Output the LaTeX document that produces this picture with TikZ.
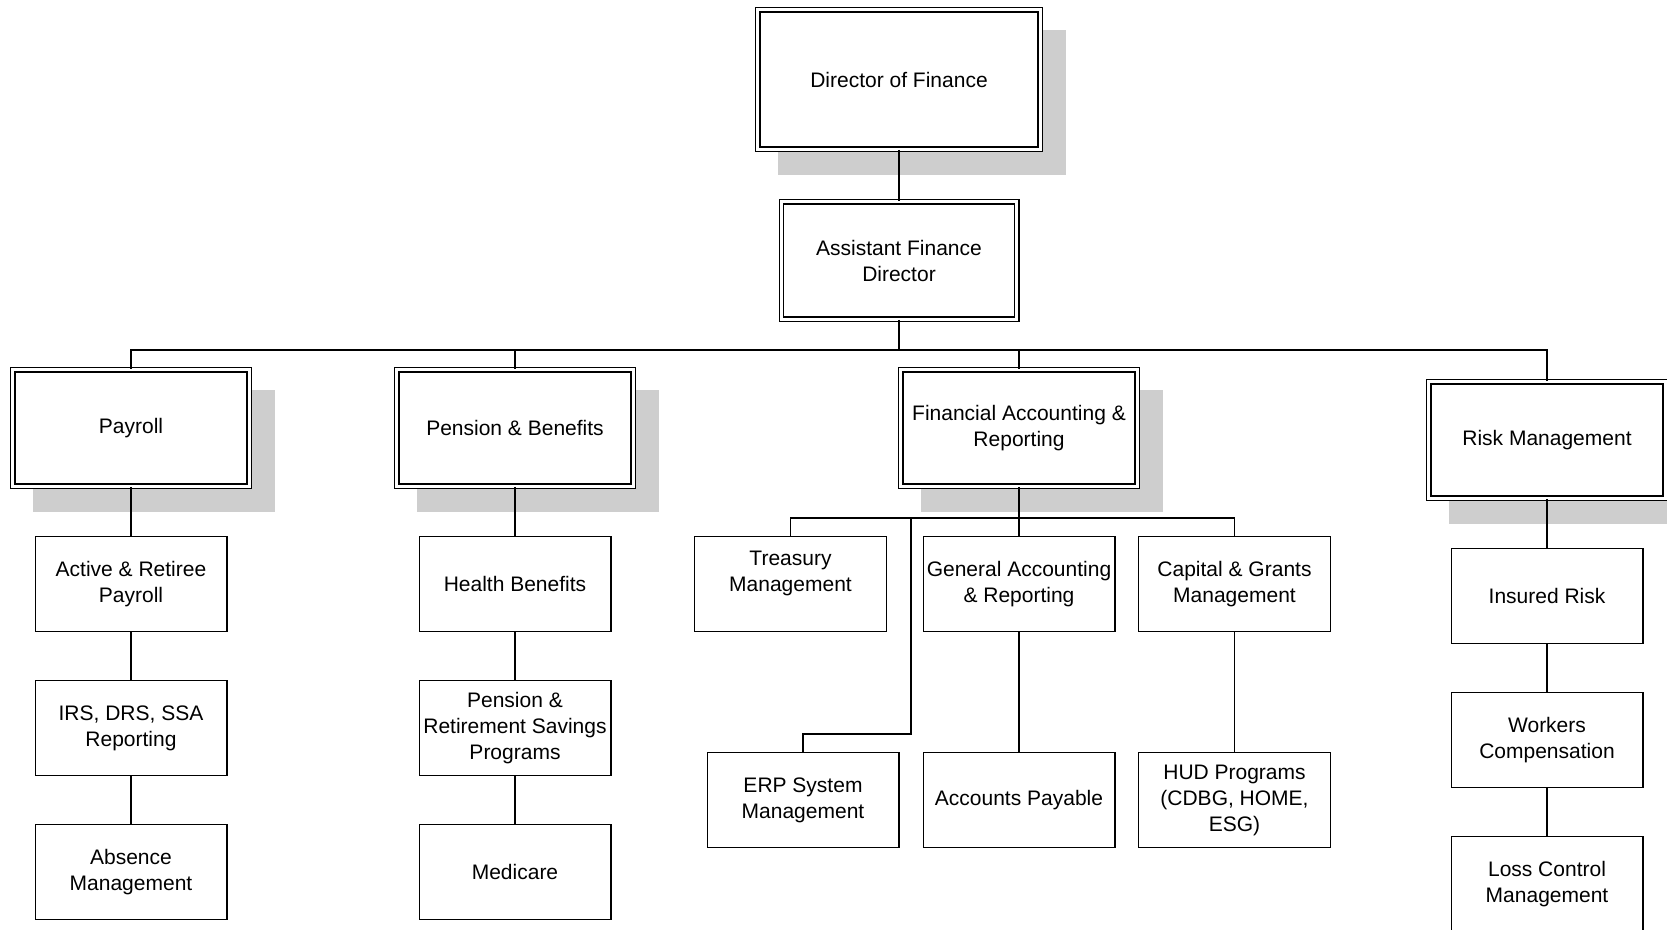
\documentclass[tikz,border=0pt]{standalone}
\usepackage{fontspec}
\setmainfont{Liberation Sans}
\usetikzlibrary{shadows}
\definecolor{shadowgray}{RGB}{206,206,206}
\begin{document}
\begin{tikzpicture}[x=1pt,y=-1pt,
  every node/.style={font=\fontsize{21}{26}\selectfont, align=center, inner sep=0pt},
  unitbox/.style={draw, line width=1.4pt, fill=white,
    minimum width=193pt-1.4pt, minimum height=96pt-1.4pt},
  dblbox/.style={draw, line width=1.3pt, double, double distance=3pt, fill=white},
  headbox/.style={dblbox,
    drop shadow={shadow xshift=23pt, shadow yshift=-23pt, fill=shadowgray,
      draw=shadowgray, line width=5.6pt, opacity=1}},
  deptbox/.style={headbox, minimum width=242pt-5.6pt, minimum height=122pt-5.6pt},
  link/.style={line width=1.5pt}]
\useasboundingbox (0,0) rectangle (1667,929);

% top of the hierarchy
\node[headbox, minimum width=288pt-5.6pt, minimum height=145pt-5.6pt] (dir) at (899,79.5) {Director of Finance};
\node[dblbox, minimum width=241pt-5.6pt, minimum height=123pt-5.6pt] (asst) at (899,260.5) {Assistant Finance\\Director};

% divisions
\node[deptbox] (payroll) at (131,428) {Payroll};
\node[deptbox] (pension) at (515,428) {Pension \& Benefits};
\node[deptbox] (finacc) at (1019,428) {Financial Accounting \&\\Reporting};
\node[deptbox] (risk) at (1547,440) {Risk Management};

% payroll units
\node[unitbox] (p1) at (131,584) {Active \& Retiree\\Payroll};
\node[unitbox] (p2) at (131,728) {IRS, DRS, SSA\\Reporting};
\node[unitbox] (p3) at (131,872) {Absence\\Management};

% pension units
\node[unitbox] (b1) at (515,584) {Health Benefits};
\node[unitbox] (b2) at (515,728) {Pension \&\\Retirement Savings\\Programs};
\node[unitbox] (b3) at (515,872) {Medicare};

% accounting units
\node[unitbox] (treasury) at (790.5,584) {Treasury\\Management\\\mbox{}};
\node[unitbox] (ga) at (1019,584) {General Accounting\\\& Reporting};
\node[unitbox] (capital) at (1234.5,584) {Capital \& Grants\\Management};
\node[unitbox] (erp) at (803,800) {ERP System\\Management};
\node[unitbox] (ap) at (1019,800) {Accounts Payable};
\node[unitbox] (hud) at (1234.5,800) {HUD Programs\\(CDBG, HOME,\\ESG)};

% risk units
\node[unitbox] (r1) at (1547,596) {Insured Risk};
\node[unitbox] (r2) at (1547,740) {Workers\\Compensation};
\node[unitbox] (r3) at (1547,884) {Loss Control\\Management};

% bus and turning points
\coordinate (busA) at (899,350);
\coordinate (busB) at (1019,518);
\coordinate (erpdrop) at (911,518);
\coordinate (erpturn) at (911,734);

% connectors
\draw[link] (dir.south) -- (asst.north);
\draw[link] (asst.south) -- (busA) -| (payroll.north);
\draw[link] (busA) -| (pension.north);
\draw[link] (busA) -| (finacc.north);
\draw[link] (busA) -| (risk.north);

\draw[link] (payroll.south) -- (p1.north);
\draw[link] (p1.south) -- (p2.north);
\draw[link] (p2.south) -- (p3.north);

\draw[link] (pension.south) -- (b1.north);
\draw[link] (b1.south) -- (b2.north);
\draw[link] (b2.south) -- (b3.north);

\draw[link] (finacc.south) -- (busB) -| (treasury.north);
\draw[link] (busB) -| (capital.north);
\draw[link] (busB) -- (ga.north);
\draw[link] (erpdrop) -- (erpturn) -| (erp.north);
\draw[link] (ga.south) -- (ap.north);
\draw[link] (capital.south) -- (hud.north);

\draw[link] (risk.south) -- (r1.north);
\draw[link] (r1.south) -- (r2.north);
\draw[link] (r2.south) -- (r3.north);
\end{tikzpicture}
\end{document}
